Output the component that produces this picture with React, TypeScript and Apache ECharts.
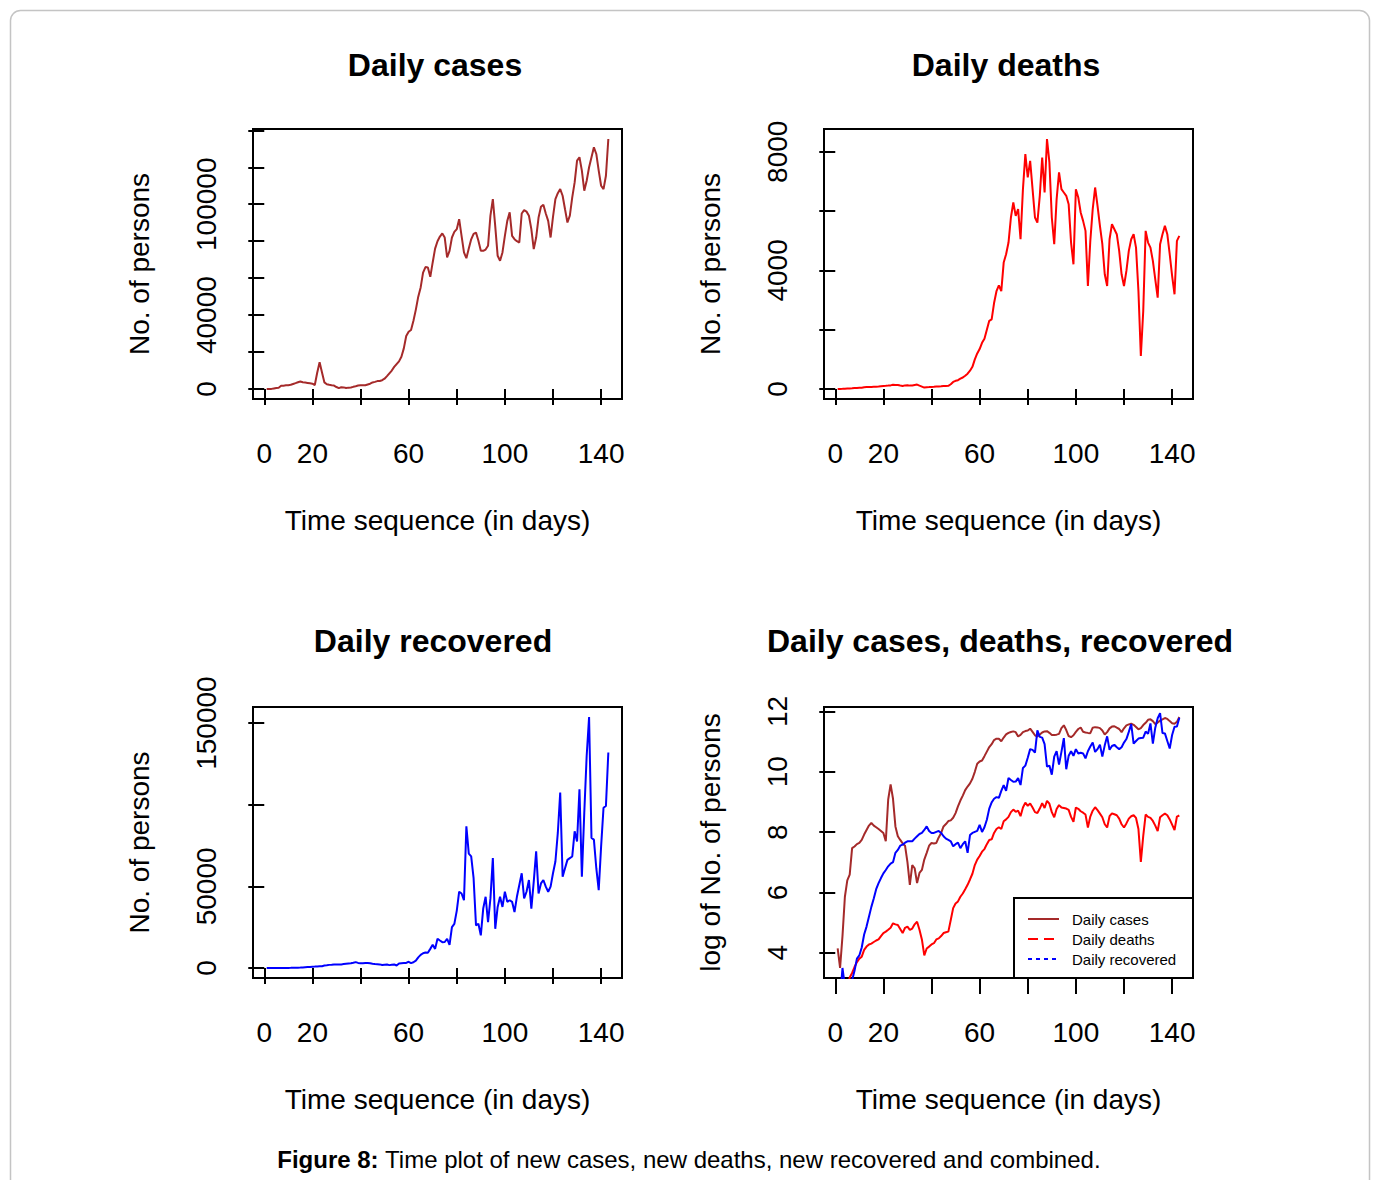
import React, { useEffect, useRef } from "react";
import * as echarts from "echarts";

// ---------------- data ----------------
const dailyCases: number[] = [
  63, 33, 95, 350, 600, 730, 1750, 1850, 2000, 2080,
  2300, 2750, 3200, 3700, 4050, 3700, 3500, 3300, 3100, 2900,
  2200, 8800, 14500, 9000, 3600, 2600, 2300, 2050, 1900, 1100,
  520, 1000, 900, 550, 770, 850, 1200, 1500, 1900, 2080,
  2050, 2080, 2500, 2900, 3600, 3900, 4300, 4400, 4800, 5600,
  7000, 8500, 10000, 12000, 13500, 15000, 17500, 22000, 28700, 31000,
  32000, 37000, 43000, 50000, 55000, 63000, 66000, 65800, 60700, 68500,
  76000, 80000, 82500, 84200, 82000, 71200, 74800, 82000, 85000, 86500,
  91900, 82900, 73900, 70800, 76000, 81000, 84000, 84700, 80200, 74800,
  74800, 75500, 77500, 93800, 102800, 88000, 72100, 69400, 73900, 82900,
  91000, 95600, 82900, 81100, 80000, 79300, 95000, 96800, 96000, 93800,
  86500, 75700, 82000, 92800, 98600, 99700, 95000, 91000, 82000, 93200,
  102800, 106000, 108200, 104600, 97300, 90100, 93800, 103700, 111800, 123600,
  125400, 118200, 107300, 112700, 120000, 125400, 130800, 127200, 118200, 110000,
  108200, 115400, 135300,
];

const dailyDeaths: number[] = [
  3, 5, 8, 12, 18, 24, 28, 34, 40, 45,
  48, 60, 67, 72, 74, 78, 82, 85, 95, 105,
  110, 117, 125, 145, 140, 137, 120, 105, 125, 130,
  117, 122, 140, 153, 117, 85, 50, 63, 67, 72,
  75, 85, 88, 95, 105, 108, 110, 162, 240, 280,
  300, 350, 390, 450, 520, 620, 750, 1000, 1200, 1350,
  1560, 1700, 2000, 2300, 2350, 2900, 3300, 3500, 3300, 4264,
  4545, 4939, 5783, 6289, 5839, 6064, 5051, 6739, 7921, 7133,
  7696, 6739, 5783, 5614, 6514, 7808, 6627, 8430, 7640, 5783,
  4883, 6402, 7302, 6739, 6627, 6514, 6233, 4939, 4207, 6739,
  6458, 5952, 5670, 5333, 3476, 4995, 6064, 6795, 6177, 5501,
  4883, 3870, 3476, 5051, 5558, 5389, 5220, 4658, 3870, 3476,
  3982, 4658, 5051, 5220, 4770, 3307, 1113, 2632, 5333, 4939,
  4770, 4320, 3701, 3082, 4883, 5220, 5501, 5220, 4545, 3813,
  3195, 4995, 5164,
];

const dailyRecovered: number[] = [
  8, 12, 33, 18, 16, 20, 22, 30, 45, 50,
  65, 100, 130, 180, 250, 330, 450, 550, 650, 760,
  850, 960, 1050, 1100, 1500, 1650, 1900, 1970, 2100, 2200,
  2200, 2200, 2400, 2600, 2800, 2900, 3200, 3600, 3100, 2900,
  2900, 3000, 3100, 2900, 2600, 2400, 2300, 2200, 1860, 2000,
  2100, 1750, 2000, 2200, 1500, 2700, 2900, 3000, 3100, 3800,
  3000, 3500, 4500, 6500, 8000, 9000, 9500, 9300, 11700, 14200,
  11700, 17900, 16800, 15800, 15900, 17900, 14200, 25000, 27000, 35000,
  46700, 45600, 41500, 86800, 70000, 68300, 55000, 26100, 27100, 20000,
  36400, 43600, 28000, 42600, 67300, 24000, 37400, 43600, 37400, 46700,
  40500, 41500, 40500, 34300, 43600, 50800, 58000, 42600, 46700, 53900,
  36400, 52900, 71400, 45600, 51800, 53900, 49800, 46700, 49800, 58000,
  65200, 82700, 107400, 55900, 61100, 66200, 67300, 68300, 83700, 77500,
  109400, 55900, 95000, 130000, 153700, 79600, 78600, 61100, 47700, 74500,
  98100, 99200, 132000,
];

// tick values and labelled ticks
const xTicks = [0, 20, 40, 60, 80, 100, 120, 140];
const xTickLabels = [0, 20, 60, 100, 140];
const casesTicks = [0, 20000, 40000, 60000, 80000, 100000, 120000, 140000];
const casesTickLabels = [0, 40000, 100000];
const deathsTicks = [0, 2000, 4000, 6000, 8000];
const deathsTickLabels = [0, 4000, 8000];
const recTicks = [0, 50000, 100000, 150000];
const recTickLabels = [0, 50000, 150000];
const logTicks = [4, 6, 8, 10, 12];

const titles = ["Daily cases", "Daily deaths", "Daily recovered", "Daily cases, deaths, recovered"];
const legendNames = ["Daily cases", "Daily deaths", "Daily recovered"];

// ---------------- helpers ----------------
const FONT = "'Liberation Sans', Arial, Helvetica, sans-serif";
const BROWN = "#A52A2A";
const RED = "#FF0000";
const BLUE = "#0000FF";

const dayOf = (i: number) => i + 1;

function padRange(vals: number[]): [number, number] {
  const mn = Math.min(...vals);
  const mx = Math.max(...vals);
  const r = mx - mn;
  return [mn - 0.04 * r, mx + 0.04 * r];
}

const xRange = padRange(dailyCases.map((_, i) => dayOf(i)));
const logCases = dailyCases.map((v) => Math.log(v));
const logDeaths = dailyDeaths.map((v) => Math.log(v));
const logRecovered = dailyRecovered.map((v) => Math.log(v));

const pairs = (arr: number[]) => arr.map((v, i) => [dayOf(i), v]);

// panel boxes (plot regions)
const grids = [
  { left: 253, top: 129, width: 369, height: 270 },
  { left: 824, top: 129, width: 369, height: 270 },
  { left: 253, top: 707, width: 369, height: 271 },
  { left: 824, top: 707, width: 369, height: 271 },
];

const tickStyle = { show: true, inside: false, length: 16, lineStyle: { color: "#000", width: 2 } };
const labelStyle = { color: "#000", fontSize: 28, fontFamily: FONT };

function xAxis(gridIndex: number) {
  return {
    type: "value",
    gridIndex,
    min: xRange[0],
    max: xRange[1],
    name: "Time sequence (in days)",
    nameLocation: "middle",
    nameGap: 107,
    nameTextStyle: { ...labelStyle },
    axisLine: { show: false },
    axisTick: { ...tickStyle, customValues: xTicks },
    axisLabel: { ...labelStyle, margin: 40, customValues: xTickLabels, formatter: (v: number) => String(v) },
    splitLine: { show: false },
  };
}

function yAxis(gridIndex: number, name: string, range: [number, number], ticks: number[], labels: number[]) {
  return {
    type: "value",
    gridIndex,
    min: range[0],
    max: range[1],
    name,
    nameLocation: "middle",
    nameRotate: 90,
    nameGap: 100,
    nameTextStyle: { ...labelStyle },
    axisLine: { show: false },
    axisTick: { ...tickStyle, customValues: ticks },
    axisLabel: { ...labelStyle, rotate: 90, margin: 33, customValues: labels, formatter: (v: number) => String(v) },
    splitLine: { show: false },
  };
}

function lineSeries(idx: number, data: number[], color: string, name: string) {
  return {
    type: "line",
    name,
    xAxisIndex: idx,
    yAxisIndex: idx,
    data: pairs(data),
    showSymbol: false,
    symbol: "none",
    clip: true,
    silent: true,
    lineStyle: { color, width: 2 },
    itemStyle: { color },
  };
}

function buildOption() {
  const titleCenters = [
    [435, 65],
    [1006, 65],
    [433, 641],
    [1000, 641],
  ];
  const legendBox = { x: 1014, y: 898, w: 179, h: 80 };
  const legendRows = [919, 939, 959];
  const legendColors = [BROWN, RED, BLUE];
  const legendDash: any[] = [null, [10, 6], [4, 4]];

  const graphic: any[] = [
    {
      type: "rect",
      shape: { x: 10.5, y: 10.5, width: 1359, height: 1220, r: 10 },
      style: { fill: "none", stroke: "#c4c4c4", lineWidth: 1.5 },
      silent: true,
      z: 0,
    },
    ...titles.map((t, i) => ({
      type: "text",
      x: titleCenters[i][0],
      y: titleCenters[i][1],
      style: {
        text: t,
        fontSize: 32,
        fontWeight: "bold",
        fontFamily: FONT,
        fill: "#000",
        align: "center",
        verticalAlign: "middle",
      },
      silent: true,
    })),
    {
      type: "rect",
      shape: { x: legendBox.x, y: legendBox.y, width: legendBox.w, height: legendBox.h },
      style: { fill: "#fff", stroke: "#000", lineWidth: 2 },
      z: 100,
      silent: true,
    },
    ...legendNames.map((n, i) => ({
      type: "line",
      shape: { x1: 1028, y1: legendRows[i], x2: 1059, y2: legendRows[i] },
      style: { stroke: legendColors[i], lineWidth: 2, lineDash: legendDash[i] || undefined },
      z: 101,
      silent: true,
    })),
    ...legendNames.map((n, i) => ({
      type: "text",
      x: 1072,
      y: legendRows[i],
      style: {
        text: n,
        fontSize: 15,
        fontFamily: FONT,
        fill: "#000",
        align: "left",
        verticalAlign: "middle",
      },
      z: 101,
      silent: true,
    })),
    {
      type: "text",
      x: 689,
      y: 1159,
      style: {
        text: "{b|Figure 8:} Time plot of new cases, new deaths, new recovered and combined.",
        fontSize: 24,
        fontFamily: FONT,
        fill: "#000",
        align: "center",
        verticalAlign: "middle",
        rich: { b: { fontSize: 24, fontFamily: FONT, fontWeight: "bold", fill: "#000" } },
      },
      silent: true,
    },
  ];

  return {
    animation: false,
    backgroundColor: "#fff",
    grid: grids.map((g) => ({
      ...g,
      show: true,
      borderColor: "#000",
      borderWidth: 2,
      backgroundColor: "transparent",
      containLabel: false,
      outerBoundsMode: "none",
    })),
    xAxis: [xAxis(0), xAxis(1), xAxis(2), xAxis(3)],
    yAxis: [
      yAxis(0, "No. of persons", padRange(dailyCases), casesTicks, casesTickLabels),
      yAxis(1, "No. of persons", padRange(dailyDeaths), deathsTicks, deathsTickLabels),
      yAxis(2, "No. of persons", padRange(dailyRecovered), recTicks, recTickLabels),
      yAxis(3, "log of No. of persons", padRange(logCases), logTicks, logTicks),
    ],
    series: [
      lineSeries(0, dailyCases, BROWN, "Daily cases"),
      lineSeries(1, dailyDeaths, RED, "Daily deaths"),
      lineSeries(2, dailyRecovered, BLUE, "Daily recovered"),
      lineSeries(3, logCases, BROWN, "log Daily cases"),
      lineSeries(3, logDeaths, RED, "log Daily deaths"),
      lineSeries(3, logRecovered, BLUE, "log Daily recovered"),
    ],
    graphic,
  };
}

export default function App() {
  const ref = useRef<HTMLDivElement>(null);
  useEffect(() => {
    document.body.style.margin = "0";
    const chart = echarts.init(ref.current as HTMLDivElement, null, { renderer: "svg" });
    chart.setOption(buildOption() as any);
    return () => {
      chart.dispose();
    };
  }, []);
  return <div ref={ref} style={{ width: 1376, height: 1180, background: "#fff" }} />;
}
